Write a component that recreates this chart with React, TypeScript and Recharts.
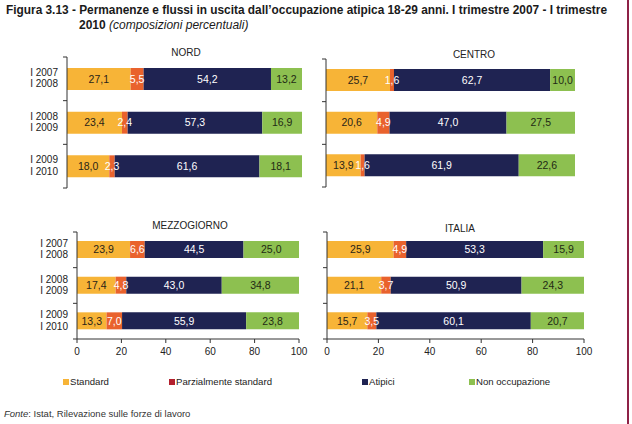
import React from 'react';
import { BarChart, Bar, XAxis, YAxis, LabelList } from 'recharts';

// ---------- DATA ----------
const periodFrom = ['I 2007', 'I 2008', 'I 2009'];
const periodTo = ['I 2008', 'I 2009', 'I 2010'];

const seriesKeys = ['standard', 'parziale', 'atipici', 'nonOcc'];
const seriesNames = ['Standard', 'Parzialmente standard', 'Atipici', 'Non occupazione'];

const nordStandard = [27.1, 23.4, 18.0];
const nordParziale = [5.5, 2.4, 2.3];
const nordAtipici = [54.2, 57.3, 61.6];
const nordNonOcc = [13.2, 16.9, 18.1];

const centroStandard = [25.7, 20.6, 13.9];
const centroParziale = [1.6, 4.9, 1.6];
const centroAtipici = [62.7, 47.0, 61.9];
const centroNonOcc = [10.0, 27.5, 22.6];

const mezzStandard = [23.9, 17.4, 13.3];
const mezzParziale = [6.6, 4.8, 7.0];
const mezzAtipici = [44.5, 43.0, 55.9];
const mezzNonOcc = [25.0, 34.8, 23.8];

const italiaStandard = [25.9, 21.1, 15.7];
const italiaParziale = [4.9, 3.7, 3.5];
const italiaAtipici = [53.3, 50.9, 60.1];
const italiaNonOcc = [15.9, 24.3, 20.7];

const xTicks = [0, 20, 40, 60, 80, 100];

// ---------- STYLE ----------
const FONT = '"Liberation Sans", Arial, sans-serif';
const barColors = ['#F7B437', '#E9622D', '#1F2352', '#8DC050'];
const legendColors = ['#F7B437', '#B3202E', '#1F2352', '#8DC050'];
const labelColors = ['#2a2418', '#ffffff', '#ffffff', '#1f2a14'];
const axisColor = '#333333';

const fmt = (v: number) => v.toFixed(1).replace('.', ',');

function buildRows(series: number[][]) {
  return periodFrom.map((p, i) => {
    const row: any = { cat: p + '|' + periodTo[i] };
    seriesKeys.forEach((k, s) => {
      row[k] = series[s][i];
    });
    return row;
  });
}

const nordRows = buildRows([nordStandard, nordParziale, nordAtipici, nordNonOcc]);
const centroRows = buildRows([centroStandard, centroParziale, centroAtipici, centroNonOcc]);
const mezzRows = buildRows([mezzStandard, mezzParziale, mezzAtipici, mezzNonOcc]);
const italiaRows = buildRows([italiaStandard, italiaParziale, italiaAtipici, italiaNonOcc]);

type PanelProps = {
  rows: any[];
  title: string;
  titleX: number;
  titleY: number;
  left: number;
  top: number;
  width: number;
  height: number;
  margin: { top: number; right: number; bottom: number; left: number };
  yAxisWidth: number;
  showLabels: boolean;
  showXAxis: boolean;
  barSize: number;
};

const X_AXIS_HEIGHT = 20;

function Panel(p: PanelProps) {
  const plotTop = p.margin.top;
  const plotBottom = p.height - p.margin.bottom - (p.showXAxis ? X_AXIS_HEIGHT : 0);
  const band = (plotBottom - plotTop) / p.rows.length;
  const axisX = p.margin.left + p.yAxisWidth;

  const CatTick = (props: any) => {
    const { y, payload, index } = props;
    const [a, b] = String(payload.value).split('|');
    return (
      <g>
        <line x1={axisX - 4} x2={axisX} y1={y - band / 2} y2={y - band / 2} stroke={axisColor} strokeWidth={1} />
        {index === p.rows.length - 1 && (
          <line x1={axisX - 4} x2={axisX} y1={y + band / 2} y2={y + band / 2} stroke={axisColor} strokeWidth={1} />
        )}
        {p.showLabels && (
          <text x={axisX - 9} y={y} textAnchor="end" fontSize={10} fontFamily={FONT} fill="#222">
            <tspan x={axisX - 9} dy={-3}>{a}</tspan>
            <tspan x={axisX - 9} dy={11.5}>{b}</tspan>
          </text>
        )}
      </g>
    );
  };

  return (
    <div style={{ position: 'absolute', left: p.left, top: p.top, width: p.width, height: p.height }}>
      <BarChart
        width={p.width}
        height={p.height}
        data={p.rows}
        layout="vertical"
        margin={p.margin}
        barSize={p.barSize}
      >
        <XAxis
          type="number"
          domain={[0, 100]}
          ticks={xTicks}
          hide={!p.showXAxis}
          height={X_AXIS_HEIGHT}
          tickSize={4}
          tickMargin={5}
          stroke={axisColor}
          tick={{ fontSize: 10, fontFamily: FONT, fill: '#222' }}
          allowDataOverflow
        />
        <YAxis
          type="category"
          dataKey="cat"
          width={p.yAxisWidth}
          axisLine={{ stroke: axisColor }}
          tickLine={false}
          tick={CatTick}
          interval={0}
        />
        {seriesKeys.map((k, s) => (
          <Bar key={k} dataKey={k} name={seriesNames[s]} stackId="a" fill={barColors[s]} isAnimationActive={false}>
            <LabelList
              dataKey={k}
              position="center"
              formatter={(v: any) => fmt(Number(v))}
              fill={labelColors[s]}
              fontSize={10.5}
              fontFamily={FONT}
            />
          </Bar>
        ))}
      </BarChart>
      <div
        style={{
          position: 'absolute',
          left: p.titleX - 60,
          top: p.titleY - 7,
          width: 120,
          textAlign: 'center',
          fontFamily: FONT,
          fontSize: 10,
          lineHeight: '14px',
          color: '#222',
        }}
      >
        {p.title}
      </div>
    </div>
  );
}

const legendSquareX = [63, 169, 362, 469];

export default function App() {
  return (
    <div
      style={{
        position: 'absolute',
        left: 0,
        top: 0,
        width: 632,
        height: 424,
        background: '#ffffff',
        overflow: 'hidden',
        fontFamily: FONT,
      }}
    >
      <svg width={632} height={424} style={{ position: 'absolute', left: 0, top: 0 }}>
        <text
          x={6}
          y={14}
          fontFamily={FONT}
          fontWeight="bold"
          fontSize={12}
          fill="#1a1a1a"
          textLength={601}
          lengthAdjust="spacingAndGlyphs"
        >
          Figura 3.13 - Permanenze e flussi in uscita dall’occupazione atipica 18-29 anni. I trimestre 2007 - I trimestre
        </text>
        <text x={79} y={29} fontFamily={FONT} fontSize={12} fill="#1a1a1a">
          <tspan fontWeight="bold">2010 </tspan>
          <tspan fontStyle="italic">(composizioni percentuali)</tspan>
        </text>

        {seriesNames.map((n, s) => (
          <g key={n}>
            <rect x={legendSquareX[s]} y={379} width={6} height={6} fill={legendColors[s]} />
            <text x={legendSquareX[s] + 7} y={385} fontFamily={FONT} fontSize={9.6} fill="#222">
              {n}
            </text>
          </g>
        ))}

        <text x={4} y={417} fontFamily={FONT} fontSize={9.5} fill="#333">
          <tspan fontStyle="italic">Fonte</tspan>
          <tspan>: Istat, Rilevazione sulle forze di lavoro</tspan>
        </text>

        <rect x={627} y={0} width={2} height={424} fill="#8E2247" />
      </svg>

      <Panel
        rows={nordRows}
        title="NORD"
        titleX={186}
        titleY={13}
        left={0}
        top={40}
        width={316}
        height={160}
        margin={{ top: 17, right: 14, bottom: 12, left: 0 }}
        yAxisWidth={67}
        showLabels={true}
        showXAxis={false}
        barSize={22}
      />
      <Panel
        rows={centroRows}
        title="CENTRO"
        titleX={158}
        titleY={15}
        left={316}
        top={40}
        width={316}
        height={160}
        margin={{ top: 19, right: 57, bottom: 13, left: 0 }}
        yAxisWidth={10}
        showLabels={false}
        showXAxis={false}
        barSize={22}
      />
      <Panel
        rows={mezzRows}
        title="MEZZOGIORNO"
        titleX={190}
        titleY={26}
        left={0}
        top={200}
        width={316}
        height={170}
        margin={{ top: 32, right: 17, bottom: 11, left: 0 }}
        yAxisWidth={77}
        showLabels={true}
        showXAxis={true}
        barSize={17}
      />
      <Panel
        rows={italiaRows}
        title="ITALIA"
        titleX={144}
        titleY={29}
        left={316}
        top={200}
        width={316}
        height={170}
        margin={{ top: 32, right: 48, bottom: 11, left: 0 }}
        yAxisWidth={11}
        showLabels={false}
        showXAxis={true}
        barSize={17}
      />
    </div>
  );
}
